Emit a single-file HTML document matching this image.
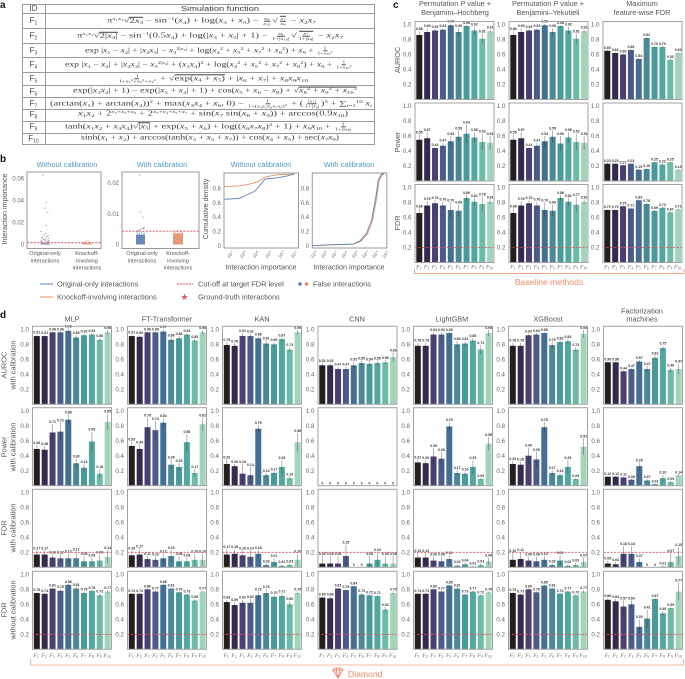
<!DOCTYPE html>
<html>
<head>
<meta charset="utf-8">
<style>
html,body{margin:0;padding:0;background:#fff;width:685px;height:679px;overflow:hidden}
#stage{position:relative;width:685px;height:679px;font-family:"Liberation Sans",sans-serif;filter:blur(.3px)}
svg{position:absolute;left:0;top:0}
.row{position:absolute;left:22px;width:353px;border-top:1px solid #9a9a9a;box-sizing:border-box}
.id{position:absolute;left:0;width:23px;top:0;bottom:0;border-right:1px solid #9a9a9a;color:#444;font-size:8px;line-height:1;display:flex;align-items:center;justify-content:center}
.id sub{font-size:5px;line-height:0;vertical-align:-1.5px}
.fm{position:absolute;top:50%;display:block;white-space:nowrap;font-family:"Liberation Serif",serif;font-size:6.8px;color:#3c3c3c;line-height:1;transform-origin:0 50%;transform:translateY(-50%)}
.fm sub,.fm sup{font-size:4.5px;line-height:0}
.fm sub{vertical-align:-1.3px}
.fm sup{vertical-align:2.4px}
.fr{display:inline-flex;flex-direction:column;align-items:center;font-size:4.2px;margin:0 1px;line-height:1;vertical-align:middle}
.fr>span:first-child{border-bottom:.5px solid #555;padding:0 .5px}
.fr sub,.fr sup{font-size:3px;vertical-align:-.8px}
.fr sup{vertical-align:1.4px}
.rt{border-top:.5px solid #444}
</style>
</head>
<body>
<div id="stage">
<svg id="fig" width="685" height="679" viewBox="0 0 685 679" font-family="'Liberation Sans',sans-serif">
  <g fill="#111" font-size="10" font-weight="bold">
    <text x="0" y="8">a</text>
    <text x="0" y="162">b</text>
    <text x="393" y="8">c</text>
    <text x="0" y="318">d</text>
  </g>
  <g fill="#4f9bd2" font-size="7.4" text-anchor="middle">
    <text x="67" y="167">Without calibration</text>
    <text x="162" y="167">With calibration</text>
    <text x="261" y="167">Without calibration</text>
    <text x="349" y="167">With calibration</text>
  </g>
  <g fill="#555" font-size="7.2" text-anchor="middle">
    <text transform="translate(7,209) rotate(-90)">Interaction importance</text>
    <text transform="translate(208,209) rotate(-90)">Cumulative density</text>
    <text x="261" y="269.5">Interaction importance</text>
    <text x="349" y="269.5">Interaction importance</text>
  </g>
  <g fill="#555" font-size="5.6" text-anchor="middle">
    <text x="45" y="255">Original-only<tspan x="45" dy="7.3">interactions</tspan></text>
    <text x="87" y="255">Knockoff-<tspan x="87" dy="7.3">involving</tspan><tspan x="87" dy="7.3">interactions</tspan></text>
    <text x="142" y="255">Original-only<tspan x="142" dy="7.3">interactions</tspan></text>
    <text x="178" y="255">Knockoff-<tspan x="178" dy="7.3">involving</tspan><tspan x="178" dy="7.3">interactions</tspan></text>
  </g>
  <g font-size="7.4" fill="#555">
    <line x1="40" x2="53" y1="284" y2="284" stroke="#5f80b6" stroke-width="1"/>
    <text x="57" y="286.5">Original-only interactions</text>
    <line x1="40" x2="53" y1="297" y2="297" stroke="#e8946f" stroke-width="1"/>
    <text x="57" y="299.5">Knockoff-involving interactions</text>
    <line x1="177" x2="193" y1="284" y2="284" stroke="#d9545f" stroke-width="1" stroke-dasharray="2 1"/>
    <text x="198" y="286.5">Cut-off at target FDR level</text>
    <polygon points="184.5,293.6 185.4,296 187.9,296 185.9,297.6 186.6,300 184.5,298.6 182.4,300 183.1,297.6 181.1,296 183.6,296" fill="#d9606a"/>
    <text x="198" y="299.5">Ground-truth interactions</text>
    <circle cx="300" cy="284" r="1.8" fill="#5f80b6"/>
    <circle cx="306.5" cy="284" r="1.8" fill="#ee8a63"/>
    <text x="313" y="286.5">False interactions</text>
  </g>
  <g fill="#555" font-size="7.3" text-anchor="middle">
    <text x="455" y="6">Permutation <tspan font-style="italic">P</tspan> value +<tspan x="455" dy="8.8">Benjamini–Hochberg</tspan></text>
    <text x="548" y="6">Permutation <tspan font-style="italic">P</tspan> value +<tspan x="548" dy="8.8">Benjamini–Yekutieli</tspan></text>
    <text x="642" y="6">Maximum<tspan x="642" dy="8.8">feature-wise FDR</tspan></text>
  </g>
  <g fill="#555" font-size="7.3" text-anchor="middle">
    <text transform="translate(400,60) rotate(-90)">AUROC</text>
    <text transform="translate(400,142) rotate(-90)">Power</text>
    <text transform="translate(400,223) rotate(-90)">FDR</text>
  </g>
  <g fill="#555" font-size="7.3" text-anchor="middle">
    <text x="72" y="321.5">MLP</text>
    <text x="167" y="321.5">FT-Transformer</text>
    <text x="262" y="321.5">KAN</text>
    <text x="357" y="321.5">CNN</text>
    <text x="452" y="321.5">LightGBM</text>
    <text x="548" y="321.5">XGBoost</text>
    <text x="642" y="313.5">Factorization<tspan x="642" dy="8.2">machines</tspan></text>
  </g>
  <g fill="#555" font-size="7.4" text-anchor="middle">
    <text transform="translate(6.5,365) rotate(-90)">AUROC<tspan x="0" dy="9">with calibration</tspan></text>
    <text transform="translate(6.5,447) rotate(-90)">Power<tspan x="0" dy="9">with calibration</tspan></text>
    <text transform="translate(6.5,528) rotate(-90)">FDR<tspan x="0" dy="9">with calibration</tspan></text>
    <text transform="translate(6.5,610) rotate(-90)">FDR<tspan x="0" dy="9">without calibration</tspan></text>
  </g>
  <path d="M414.5 269V273.5H684V269" fill="none" stroke="#f5a58c" stroke-width="1"/>
  <text x="549" y="285" font-size="8.6" fill="#f58a6b" text-anchor="middle">Baseline methods</text>
  <path d="M30.5 659V665H683.5V659" fill="none" stroke="#f7b8a3" stroke-width="1"/>
  <text x="348" y="677" font-size="8.6" fill="#f58a6b">Diamond</text>
  <g fill="none" stroke="#f0795a" stroke-width=".8">
    <path d="M333 670L335 668H341L343 670L338 678Z"/>
    <path d="M333 670H343M336 670L338 678L340 670M336 670L337 668M340 670L339 668"/>
  </g>
</svg>

<div id="sim-table">
  <div class="row" style="top:4px;height:9px"><div class="id"><span>ID</span></div><div class="fm" data-x="159" data-w="78" style="font-family:'Liberation Sans',sans-serif;font-size:7.6px">Simulation function</div></div>
  <div class="row" style="top:13px;height:15px"><div class="id"><span>F<sub>1</sub></span></div><div class="fm" data-x="85" data-w="209">π<sup><i>x</i>₁<i>x</i>₂</sup>√<span class="rt">2<i>x</i><sub>3</sub></span>&nbsp;− sin<sup>−1</sup>(<i>x</i><sub>4</sub>) + log(<i>x</i><sub>3</sub> + <i>x</i><sub>5</sub>) − <span class="fr"><span><i>x</i><sub>9</sub></span><span><i>x</i><sub>10</sub></span></span>√<span class="fr rt"><span><i>x</i><sub>7</sub></span><span><i>x</i><sub>8</sub></span></span>&nbsp;− <i>x</i><sub>2</sub><i>x</i><sub>7</sub></div></div>
  <div class="row" style="top:28px;height:15px"><div class="id"><span>F<sub>2</sub></span></div><div class="fm" data-x="55" data-w="266">π<sup><i>x</i>₁<i>x</i>₂</sup>√<span class="rt">2|<i>x</i><sub>3</sub>|</span>&nbsp;− sin<sup>−1</sup>(0.5<i>x</i><sub>4</sub>) + log(|<i>x</i><sub>3</sub> + <i>x</i><sub>5</sub>| + 1) − <span class="fr"><span><i>x</i><sub>9</sub></span><span>1+|<i>x</i><sub>10</sub>|</span></span>√<span class="fr rt"><span><i>x</i><sub>7</sub></span><span>1+|<i>x</i><sub>8</sub>|</span></span>&nbsp;− <i>x</i><sub>2</sub><i>x</i><sub>7</sub></div></div>
  <div class="row" style="top:43px;height:14px"><div class="id"><span>F<sub>3</sub></span></div><div class="fm" data-x="63" data-w="249">exp |<i>x</i><sub>1</sub> − <i>x</i><sub>2</sub>| + |<i>x</i><sub>2</sub><i>x</i><sub>3</sub>| − <i>x</i><sub>3</sub><sup>2|<i>x</i>₄|</sup> + log(<i>x</i><sub>4</sub><sup>2</sup> + <i>x</i><sub>5</sub><sup>2</sup> + <i>x</i><sub>7</sub><sup>2</sup> + <i>x</i><sub>8</sub><sup>2</sup>) + <i>x</i><sub>9</sub> + <span class="fr"><span>1</span><span>1+<i>x</i><sub>10</sub><sup>2</sup></span></span></div></div>
  <div class="row" style="top:57px;height:14.5px"><div class="id"><span>F<sub>4</sub></span></div><div class="fm" data-x="43" data-w="288">exp |<i>x</i><sub>1</sub> − <i>x</i><sub>2</sub>| + |<i>x</i><sub>2</sub><i>x</i><sub>3</sub>| − <i>x</i><sub>3</sub><sup>2|<i>x</i>₄|</sup> + (<i>x</i><sub>1</sub><i>x</i><sub>4</sub>)<sup>2</sup> + log(<i>x</i><sub>4</sub><sup>2</sup> + <i>x</i><sub>5</sub><sup>2</sup> + <i>x</i><sub>7</sub><sup>2</sup> + <i>x</i><sub>8</sub><sup>2</sup>) + <i>x</i><sub>9</sub> + <span class="fr"><span>1</span><span>1+<i>x</i><sub>10</sub><sup>2</sup></span></span></div></div>
  <div class="row" style="top:71.5px;height:13.5px"><div class="id"><span>F<sub>5</sub></span></div><div class="fm" data-x="95" data-w="191"><span class="fr"><span>1</span><span>1+<i>x</i><sub>1</sub><sup>2</sup>+<i>x</i><sub>2</sub><sup>2</sup>+<i>x</i><sub>3</sub><sup>2</sup></span></span> + √<span class="rt">exp(<i>x</i><sub>4</sub> + <i>x</i><sub>5</sub>)</span> + |<i>x</i><sub>6</sub> + <i>x</i><sub>7</sub>| + <i>x</i><sub>8</sub><i>x</i><sub>9</sub><i>x</i><sub>10</sub></div></div>
  <div class="row" style="top:85px;height:12px"><div class="id"><span>F<sub>6</sub></span></div><div class="fm" data-x="51" data-w="284">exp(|<i>x</i><sub>1</sub><i>x</i><sub>2</sub>| + 1) − exp(|<i>x</i><sub>3</sub> + <i>x</i><sub>4</sub>| + 1) + cos(<i>x</i><sub>5</sub> + <i>x</i><sub>6</sub> − <i>x</i><sub>8</sub>) + √<span class="rt"><i>x</i><sub>8</sub><sup>2</sup> + <i>x</i><sub>9</sub><sup>2</sup> + <i>x</i><sub>10</sub><sup>2</sup></span></div></div>
  <div class="row" style="top:97px;height:12px"><div class="id"><span>F<sub>7</sub></span></div><div class="fm" data-x="28" data-w="322">(arctan(<i>x</i><sub>1</sub>) + arctan(<i>x</i><sub>2</sub>))<sup>2</sup> + max(<i>x</i><sub>3</sub><i>x</i><sub>4</sub> + <i>x</i><sub>6</sub>, 0) − <span class="fr"><span>1</span><span>1+(<i>x</i>₄<i>x</i>₅<i>x</i>₆<i>x</i>₇<i>x</i>₈)<sup>2</sup></span></span> + (<span class="fr"><span>|<i>x</i>₇|</span><span>1+|<i>x</i>₉|</span></span>)<sup>5</sup> + ∑<sub><i>i</i>=1</sub><sup>10</sup> <i>x</i><sub><i>i</i></sub></div></div>
  <div class="row" style="top:109px;height:11.5px"><div class="id"><span>F<sub>8</sub></span></div><div class="fm" data-x="56" data-w="270"><i>x</i><sub>1</sub><i>x</i><sub>2</sub> + 2<sup><i>x</i>₃+<i>x</i>₅+<i>x</i>₆</sup> + 2<sup><i>x</i>₃+<i>x</i>₄+<i>x</i>₅+<i>x</i>₇</sup> + sin(<i>x</i><sub>7</sub> sin(<i>x</i><sub>8</sub> + <i>x</i><sub>9</sub>)) + arccos(0.9<i>x</i><sub>10</sub>)</div></div>
  <div class="row" style="top:120.5px;height:12px"><div class="id"><span>F<sub>9</sub></span></div><div class="fm" data-x="43" data-w="288">tanh(<i>x</i><sub>1</sub><i>x</i><sub>2</sub> + <i>x</i><sub>3</sub><i>x</i><sub>4</sub>)√<span class="rt">|<i>x</i><sub>5</sub>|</span> + exp(<i>x</i><sub>5</sub> + <i>x</i><sub>6</sub>) + log((<i>x</i><sub>6</sub><i>x</i><sub>7</sub><i>x</i><sub>8</sub>)<sup>2</sup> + 1) + <i>x</i><sub>9</sub><i>x</i><sub>10</sub> + <span class="fr"><span>1</span><span>1+|<i>x</i><sub>10</sub>|</span></span></div></div>
  <div class="row" style="top:132.5px;height:12px;border-bottom:1px solid #9a9a9a"><div class="id"><span>F<sub>10</sub></span></div><div class="fm" data-x="59" data-w="258">sinh(<i>x</i><sub>1</sub> + <i>x</i><sub>2</sub>) + arccos(tanh(<i>x</i><sub>3</sub> + <i>x</i><sub>5</sub> + <i>x</i><sub>7</sub>)) + cos(<i>x</i><sub>4</sub> + <i>x</i><sub>5</sub>) + sec(<i>x</i><sub>7</sub><i>x</i><sub>9</sub>)</div></div>
  <div style="position:absolute;left:22px;top:4px;width:353px;height:140.5px;border:1px solid #9a9a9a;box-sizing:border-box"></div>
</div>
</div>

<script>
// ---------- categories and tick labels ----------
const categories = ['1','2','3','4','5','6','7','8','9','10'];
const barTicks = [0.2,0.4,0.6,0.8,1.0];
const densityTicks = [0,0.2,0.4,0.6,0.8];
const stripTicksLeft = [0,0.02,0.04,0.06];
const stripTicksRight = [0,0.01,0.02];
const densityXTicksLeft = [-7,-6,-5,-4,-3,-2];
const densityXTicksRight = [-9,-8,-7,-6,-5,-4,-3,-2];

// ---------- panel c values / errors ----------
const bhAuroc = [.86,.90,.92,.93,.99,.90,.98,.92,.81,.91];
const bhAurocErr = [.05,.05,.02,.02,.02,.05,.01,.05,.07,.02];
const byAuroc = [.86,.90,.92,.93,.99,.90,.98,.92,.81,.91];
const byAurocErr = [.05,.05,.02,.02,.02,.05,.01,.05,.07,.02];
const maxAuroc = [.65,.62,.60,.66,.54,.82,.70,.70,.53,.62];
const maxAurocErr = [.01,.01,.01,.01,.01,.01,.01,.01,.01,.01];
const bhPower = [.55,.57,.44,.47,.53,.59,.63,.58,.52,.51];
const bhPowerErr = [.07,.08,.01,.04,.07,.08,.12,.07,.11,.09];
const byPower = [.55,.57,.44,.47,.53,.59,.50,.58,.52,.51];
const byPowerErr = [.07,.08,.01,.04,.07,.08,.10,.07,.11,.09];
const maxPower = [.23,.23,.21,.23,.15,.16,.25,.22,.25,.15];
const maxPowerErr = [.01,.01,.01,.01,.01,.01,.01,.01,.01,.01];
const bhFdr = [.66,.76,.79,.76,.70,.69,.86,.81,.78,.81];
const bhFdrErr = [.06,.06,.04,.05,.10,.08,.04,.05,.10,.03];
const byFdr = [.66,.76,.79,.76,.70,.69,.86,.81,.77,.81];
const byFdrErr = [.06,.06,.04,.05,.10,.08,.04,.05,.10,.03];
const maxFdr = [.70,.70,.75,.72,.83,.78,.69,.73,.67,.71];
const maxFdrErr = [.01,.01,.01,.01,.01,.01,.01,.01,.01,.01];

// ---------- panel d values / errors ----------
const mlpAuroc = [.91,.91,.96,.96,.98,.89,.92,.93,.86,.96];
const mlpAurocErr = [.02,.01,.01,.01,.03,.03,.02,.02,.02,.03];
const mlpPower = [.49,.48,.71,.72,.88,.30,.24,.59,.16,.85];
const mlpPowerErr = [.05,.05,.11,.12,.07,.06,.05,.13,.06,.11];
const mlpFdrCal = [.17,.17,.13,.12,.12,.12,.08,.08,.09,.14];
const mlpFdrCalErr = [.05,.05,.04,.05,.06,.09,.07,.05,.08,.09];
const mlpFdrRaw = [.75,.74,.81,.78,.86,.81,.75,.78,.72,.77];
const mlpFdrRawErr = [.01,.01,.01,.02,.01,.02,.02,.01,.02,.02];
const ftAuroc = [.91,.90,.96,.96,.97,.86,.88,.93,.85,.96];
const ftAurocErr = [.02,.02,.01,.01,.03,.03,.03,.02,.02,.03];
const ftPower = [.53,.49,.78,.74,.84,.28,.25,.58,.17,.82];
const ftPowerErr = [.06,.06,.13,.12,.06,.07,.05,.11,.05,.09];
const ftFdrCal = [.16,.17,.11,.10,.12,.15,.08,.08,.10,.10];
const ftFdrCalErr = [.06,.08,.04,.04,.06,.08,.07,.05,.08,.08];
const ftFdrRaw = [.74,.74,.80,.77,.86,.81,.76,.73,.65,.77];
const ftFdrRawErr = [.01,.01,.01,.01,.01,.01,.01,.01,.02,.01];
const kanAuroc = [.79,.78,.91,.91,.88,.81,.80,.87,.73,.96];
const kanAurocErr = [.04,.03,.04,.03,.02,.04,.03,.02,.03,.03];
const kanPower = [.29,.26,.16,.14,.76,.14,.17,.25,.10,.58];
const kanPowerErr = [.06,.03,.13,.11,.05,.03,.02,.09,.02,.12];
const kanFdrCal = [.17,.18,.16,.14,.18,.03,.07,.02,.03,.10];
const kanFdrCalErr = [.07,.06,.06,.08,.05,.02,.05,.02,.02,.08];
const kanFdrRaw = [.63,.59,.62,.62,.72,.75,.70,.71,.60,.75];
const kanFdrRawErr = [.03,.04,.04,.05,.05,.05,.02,.03,.04,.02];
const cnnAuroc = [.52,.52,.47,.47,.52,.55,.54,.55,.56,.63];
const cnnAurocErr = [.03,.03,.03,.03,.05,.03,.03,.03,.03,.06];
const cnnPower = [0,0,0,0,0,0,0,0,0,0];
const cnnPowerErr = [0,0,0,0,0,0,0,0,0,0];
const cnnFdrCal = [.05,.05,.05,.15,0,0,.05,.10,.05,.05];
const cnnFdrCalErr = [.10,.10,.10,.15,0,0,.10,.10,.10,.10];
const cnnFdrRaw = [.69,.68,.81,.79,.84,.73,.72,.71,.53,.75];
const cnnFdrRawErr = [.01,.02,.01,.01,.01,.02,.01,.01,.03,.02];
const lgbmAuroc = [.78,.78,.93,.93,.95,.80,.81,.85,.73,.95];
const lgbmAurocErr = [.04,.04,.03,.03,.01,.04,.03,.03,.06,.04];
const lgbmPower = [.31,.30,.39,.36,.79,.17,.16,.25,.09,.56];
const lgbmPowerErr = [.04,.04,.11,.09,.06,.04,.03,.09,.01,.09];
const lgbmFdrCal = [.13,.13,.09,.08,.11,.02,.04,.01,.03,.08];
const lgbmFdrCalErr = [.06,.06,.05,.06,.05,.02,.02,.01,.02,.05];
const lgbmFdrRaw = [.74,.74,.80,.77,.85,.81,.73,.77,.72,.76];
const lgbmFdrRawErr = [.01,.01,.01,.01,.01,.01,.01,.01,.01,.01];
const xgbAuroc = [.78,.78,.92,.93,.95,.79,.83,.84,.73,.94];
const xgbAurocErr = [.04,.04,.02,.02,.01,.04,.02,.03,.03,.05];
const xgbPower = [.29,.28,.40,.35,.78,.17,.14,.25,.09,.52];
const xgbPowerErr = [.04,.04,.11,.10,.07,.04,.03,.09,.01,.11];
const xgbFdrCal = [.10,.11,.09,.08,.10,.03,.09,.02,.03,.07];
const xgbFdrCalErr = [.09,.09,.05,.06,.05,.02,.07,.02,.03,.06];
const xgbFdrRaw = [.75,.73,.80,.76,.85,.81,.74,.77,.72,.77];
const xgbFdrRawErr = [.01,.01,.01,.01,.01,.01,.01,.01,.01,.02];
const fmAuroc = [.56,.56,.44,.47,.57,.47,.62,.75,.46,.47];
const fmAurocErr = [.01,.01,.01,.01,.02,.04,.03,.03,.03,.07];
const fmPower = [.12,.12,.11,.08,.26,.07,.02,.10,.05,.14];
const fmPowerErr = [.01,.01,.01,.01,.05,.02,.01,.05,.01,.01];
const fmFdrCal = [.05,.04,.18,.18,.07,0,0,.01,.07,.15];
const fmFdrCalErr = [.04,.03,.10,.10,.05,0,0,.01,.12,.12];
const fmFdrRaw = [.66,.64,.57,.60,.30,.41,.67,.48,.55,.77];
const fmFdrRawErr = [.02,.03,.08,.05,.10,.12,.01,.03,.01,.12];

// ---------- panel b values ----------
const leftOriginalGroundTruth = [.063,.0385,.033,.029,.0176,.0118,.0097,.008,.0065,.005,.0042,.0035,.003,.0025];
const leftOriginalGroundTruthJitter = [-.2,.15,.0,.3,.15,-.45,.1,.35,-.3,.05,-.1,.4,-.35,.25];
const leftOriginalFalse = [.0085,.007,.006,.0052,.0045,.0038,.003,.0027,.0022,.002];
const leftOriginalFalseJitter = [-.1,.2,-.35,.35,-.2,.1,-.45,.45,.25,-.3];
const leftKnockoffFalse = [.004,.003,.0022,.002];
const leftKnockoffFalseJitter = [.1,-.1,.3,-.3];
const leftDenseOriginalTop = [.0011];
const leftDenseKnockoffTop = [.0011];
const leftCutoff = [.0016];
const rightOriginalGroundTruth = [.0225,.0105,.0088,.0055,.0052,.0045];
const rightOriginalGroundTruthJitter = [-.1,.0,.3,.4,.2,-.3];
const rightOriginalFalse = [.0052,.0048,.0045,.0042,.0041,.0038,.0036,.0035,.0034];
const rightOriginalFalseJitter = [.35,.0,-.2,.3,-.4,.1,-.3,.4,-.1];
const rightKnockoffFalse = [.0046,.0043,.004,.0038,.0037,.0036];
const rightKnockoffFalseJitter = [.1,-.2,.3,-.35,.0,.45];
const rightDenseOriginalTop = [.0032];
const rightDenseKnockoffTop = [.0036];
const rightCutoff = [.0043];

// density curves: log10 importance and cumulative density
const leftLogX = [-7.52,-6.32,-5.74,-5.09,-4.75,-4.3,-3.26,-2.6,-2];
const leftOriginalDensity = [.647,.66,.707,.763,.833,.93,.949,.972,1];
const leftKnockoffLogX = [-7.52,-6.3,-5.5,-4.85,-4.2,-3.26,-2];
const leftKnockoffDensity = [.823,.833,.86,.893,.963,.99,1];
const rightLogX = [-9.2,-7.15,-5.2,-4.55,-3.9,-3.4,-2.98,-2.75,-2.42,-2.2];
const rightOriginalDensity = [0,.014,.023,.065,.172,.358,.68,.91,1,1];
const rightKnockoffLogX = [-9.2,-7.15,-5.2,-4.45,-3.8,-3.3,-2.9,-2.68,-2.37,-2.15];
const rightKnockoffDensity = [0,.012,.021,.06,.165,.35,.67,.9,.99,1];

// ---------- layout ----------
const barColors = ['#231f20','#35294d','#474070','#4b5a8b','#456f92','#4a8898','#4a9a9b','#52a89e','#6dbba5','#a2d4b9'];
const svg = document.getElementById('fig');
const NS = 'http://www.w3.org/2000/svg';
function el(tag, attrs, parent) {
  const e = document.createElementNS(NS, tag);
  for (const k in attrs) e.setAttribute(k, attrs[k]);
  (parent || svg).appendChild(e);
  return e;
}
const cCols = [{x:415,id:'bh'},{x:509,id:'by'},{x:603,id:'max'}];
const cRows = [{y0:99.5,id:'auroc'},{y0:181,id:'power'},{y0:262.5,id:'fdr',cut:true}];
const cData = [
 [[bhAuroc,bhAurocErr],[byAuroc,byAurocErr],[maxAuroc,maxAurocErr]],
 [[bhPower,bhPowerErr],[byPower,byPowerErr],[maxPower,maxPowerErr]],
 [[bhFdr,bhFdrErr],[byFdr,byFdrErr],[maxFdr,maxFdrErr]]
];
const dCols = [{x:32.5,id:'mlp'},{x:127.5,id:'ft'},{x:222.5,id:'kan'},{x:318,id:'cnn'},{x:413.5,id:'lgbm'},{x:508.5,id:'xgb'},{x:603.5,id:'fm'}];
const dRows = [{y0:404.3,id:'auroc'},{y0:485.7,id:'power'},{y0:567.3,id:'fdr-cal',cut:true},{y0:649.3,id:'fdr-raw',cut:true}];
const dData = [
 [[mlpAuroc,mlpAurocErr],[ftAuroc,ftAurocErr],[kanAuroc,kanAurocErr],[cnnAuroc,cnnAurocErr],[lgbmAuroc,lgbmAurocErr],[xgbAuroc,xgbAurocErr],[fmAuroc,fmAurocErr]],
 [[mlpPower,mlpPowerErr],[ftPower,ftPowerErr],[kanPower,kanPowerErr],[cnnPower,cnnPowerErr],[lgbmPower,lgbmPowerErr],[xgbPower,xgbPowerErr],[fmPower,fmPowerErr]],
 [[mlpFdrCal,mlpFdrCalErr],[ftFdrCal,ftFdrCalErr],[kanFdrCal,kanFdrCalErr],[cnnFdrCal,cnnFdrCalErr],[lgbmFdrCal,lgbmFdrCalErr],[xgbFdrCal,xgbFdrCalErr],[fmFdrCal,fmFdrCalErr]],
 [[mlpFdrRaw,mlpFdrRawErr],[ftFdrRaw,ftFdrRawErr],[kanFdrRaw,kanFdrRawErr],[cnnFdrRaw,cnnFdrRawErr],[lgbmFdrRaw,lgbmFdrRawErr],[xgbFdrRaw,xgbFdrRawErr],[fmFdrRaw,fmFdrRawErr]]
];
const PW = 79, PH = 78, UNIT = 75;

function barPanel(col, row, vals, errs, showX, xLabelY) {
  const id = col.id + '-' + row.id;
  const g = el('g', {});
  
  
  const yScale = v => row.y0 - v * UNIT;
  const xScale = i => col.x + 4.3 + i * 7.87;
  barTicks.forEach(t => {
    const tick = el('text', {x: col.x - 3.5, y: yScale(t) + 2.1, 'font-size': 6.2, fill: '#666', 'text-anchor': 'end'}, g);
    
    
    tick.textContent = t.toFixed(1);
  });
  vals.forEach((v, i) => {
    const cx = xScale(i);
    const bar = el('rect', {x: cx - 3, y: yScale(v), width: 6, height: v * UNIT, fill: barColors[i]}, g);
    
    
    const top = yScale(v + errs[i]);
    if (errs[i] > 0) {
      const eb = el('line', {x1: cx, x2: cx, y1: top, y2: yScale(Math.max(0, v - errs[i])), stroke: '#2a2a2a', 'stroke-opacity': .5, 'stroke-width': .7}, g);
      
      
    }
    const lab = el('text', {x: cx, y: top - 1.2, 'font-size': 3.5, 'font-weight': 'bold', fill: '#333', 'text-anchor': 'middle'}, g);
    
    
    lab.textContent = v === 0 ? '0' : v.toFixed(2);
    if (showX) {
      const xl = el('text', {x: cx - .6, y: xLabelY, 'font-family': "'Liberation Serif',serif", 'font-style': 'italic', 'font-size': 5.6, fill: '#666', 'text-anchor': 'middle'}, g);
      
      
      xl.textContent = 'F';
      const sub = el('tspan', {dy: 1.2, 'font-size': 3.6, 'font-style': 'normal'}, xl);
      sub.textContent = categories[i];
    }
  });
  if (row.cut) {
    const cut = el('line', {x1: col.x, x2: col.x + PW, y1: yScale(.2), y2: yScale(.2), stroke: '#d9545f', 'stroke-width': .8, 'stroke-dasharray': '2.2 1.3'}, g);
    
    
  }
  const frame = el('rect', {x: col.x, y: row.y0 - PH, width: PW, height: PH, fill: 'none', stroke: '#a3a3a3', 'stroke-width': 1}, g);
  
  
}
cRows.forEach((row, r) => cCols.forEach((col, c) => barPanel(col, row, cData[r][c][0], cData[r][c][1], r === 2, 268.5)));
dRows.forEach((row, r) => dCols.forEach((col, c) => barPanel(col, row, dData[r][c][0], dData[r][c][1], r === 3, 657)));

// ---------- panel b strips ----------
function stripPanel(cfg) {
  const g = el('g', {});
  
  
  const yScale = v => 244.5 - v * cfg.k;
  cfg.ticks.forEach(t => {
    const tick = el('text', {x: cfg.x0 - 3, y: yScale(t) + 2.1, 'font-size': 6, fill: '#666', 'text-anchor': 'end'}, g);
    
    
    tick.textContent = String(t);
  });
  const dense1 = el('rect', {x: cfg.c1 - 4.5, y: yScale(cfg.d1[0]), width: 9, height: cfg.d1[0] * cfg.k, fill: '#4f74ad', opacity: .85}, g);
  
  
  const dense2 = el('rect', {x: cfg.c2 - 5, y: yScale(cfg.d2[0]), width: 10, height: cfg.d2[0] * cfg.k, fill: '#e08e68', opacity: .9}, g);
  
  
  function pts(vals, jit, center, fill, name) {
    vals.forEach((v, i) => {
      const c = el('circle', {cx: center + jit[i] * 9, cy: yScale(v), r: .65, fill: fill, opacity: .8}, g);
      
      
    });
  }
  pts(cfg.gt, cfg.gtJ, cfg.c1, '#e06a78', 'ground-truth-point');
  pts(cfg.f1, cfg.f1J, cfg.c1, '#5f80b6', 'false-original-point');
  pts(cfg.f2, cfg.f2J, cfg.c2, '#ee8a63', 'false-knockoff-point');
  const cut = el('line', {x1: cfg.x0, x2: cfg.x1, y1: yScale(cfg.cut[0]), y2: yScale(cfg.cut[0]), stroke: '#d9545f', 'stroke-width': .9, 'stroke-dasharray': '2.2 1.2'}, g);
  
  
  const frame = el('rect', {x: cfg.x0, y: 172, width: cfg.x1 - cfg.x0, height: 76.5, fill: 'none', stroke: '#9a9a9a', 'stroke-width': 1}, g);
  
  
}
stripPanel({id:'without-calibration',x0:27,x1:101,k:1100,c1:45,c2:87,ticks:stripTicksLeft,d1:leftDenseOriginalTop,d2:leftDenseKnockoffTop,gt:leftOriginalGroundTruth,gtJ:leftOriginalGroundTruthJitter,f1:leftOriginalFalse,f1J:leftOriginalFalseJitter,f2:leftKnockoffFalse,f2J:leftKnockoffFalseJitter,cut:leftCutoff});
stripPanel({id:'with-calibration',x0:122,x1:199,k:3085,c1:140.5,c2:178,ticks:stripTicksRight,d1:rightDenseOriginalTop,d2:rightDenseKnockoffTop,gt:rightOriginalGroundTruth,gtJ:rightOriginalGroundTruthJitter,f1:rightOriginalFalse,f1J:rightOriginalFalseJitter,f2:rightKnockoffFalse,f2J:rightKnockoffFalseJitter,cut:rightCutoff});

// ---------- panel b density ----------
function densityPanel(cfg) {
  const g = el('g', {});
  
  
  const yScale = v => 245.7 - v * 71.7;
  const xScale = lx => cfg.xRef + (lx - cfg.xTicks[0]) * cfg.dx;
  densityTicks.forEach(t => {
    const tick = el('text', {x: cfg.x0 - 3.2, y: yScale(t) + 2.1, 'font-size': 6, fill: '#666', 'text-anchor': 'end'}, g);
    
    
    tick.textContent = t === 0 ? '0' : t.toFixed(1);
  });
  cfg.xTicks.forEach(t => {
    const tick = el('text', {transform: 'translate(' + (xScale(t) + 1) + ',255.5) rotate(-50)', 'font-size': 4.6, fill: '#666', 'text-anchor': 'middle'}, g);
    
    
    tick.textContent = '10';
    const sup = el('tspan', {dy: -1.5, 'font-size': 3}, tick);
    sup.textContent = String(t);
  });
  function curve(xs, ys, stroke, name) {
    const d = xs.map((lx, i) => (i ? 'L' : 'M') + Math.max(cfg.x0, xScale(lx)).toFixed(2) + ' ' + yScale(ys[i]).toFixed(2)).join('');
    const p = el('path', {d: d, fill: 'none', stroke: stroke, 'stroke-width': .9}, g);
    
    
  }
  curve(cfg.x2, cfg.y2, '#e8946f', 'density-line-knockoff');
  curve(cfg.x1a, cfg.y1, '#5f80b6', 'density-line-original');
  const frame = el('rect', {x: cfg.x0, y: 173, width: 74.5, height: 75, fill: 'none', stroke: '#9a9a9a', 'stroke-width': 1}, g);
  
  
}
densityPanel({id:'without-calibration',x0:224,xRef:230.7,dx:12.73,xTicks:densityXTicksLeft,x1a:leftLogX,y1:leftOriginalDensity,x2:leftKnockoffLogX,y2:leftKnockoffDensity});
densityPanel({id:'with-calibration',x0:312.3,xRef:314.3,dx:10.23,xTicks:densityXTicksRight,x1a:rightLogX,y1:rightOriginalDensity,x2:rightKnockoffLogX,y2:rightKnockoffDensity});

// ---------- fit the table formulas to their measured widths ----------
document.querySelectorAll('.fm').forEach(f => {
  const w = f.getBoundingClientRect().width;
  const target = parseFloat(f.getAttribute('data-w'));
  f.style.left = f.getAttribute('data-x') + 'px';
  f.style.transform = 'translateY(-50%) scaleX(' + (target / w).toFixed(3) + ')';
});
</script>
</body>
</html>
